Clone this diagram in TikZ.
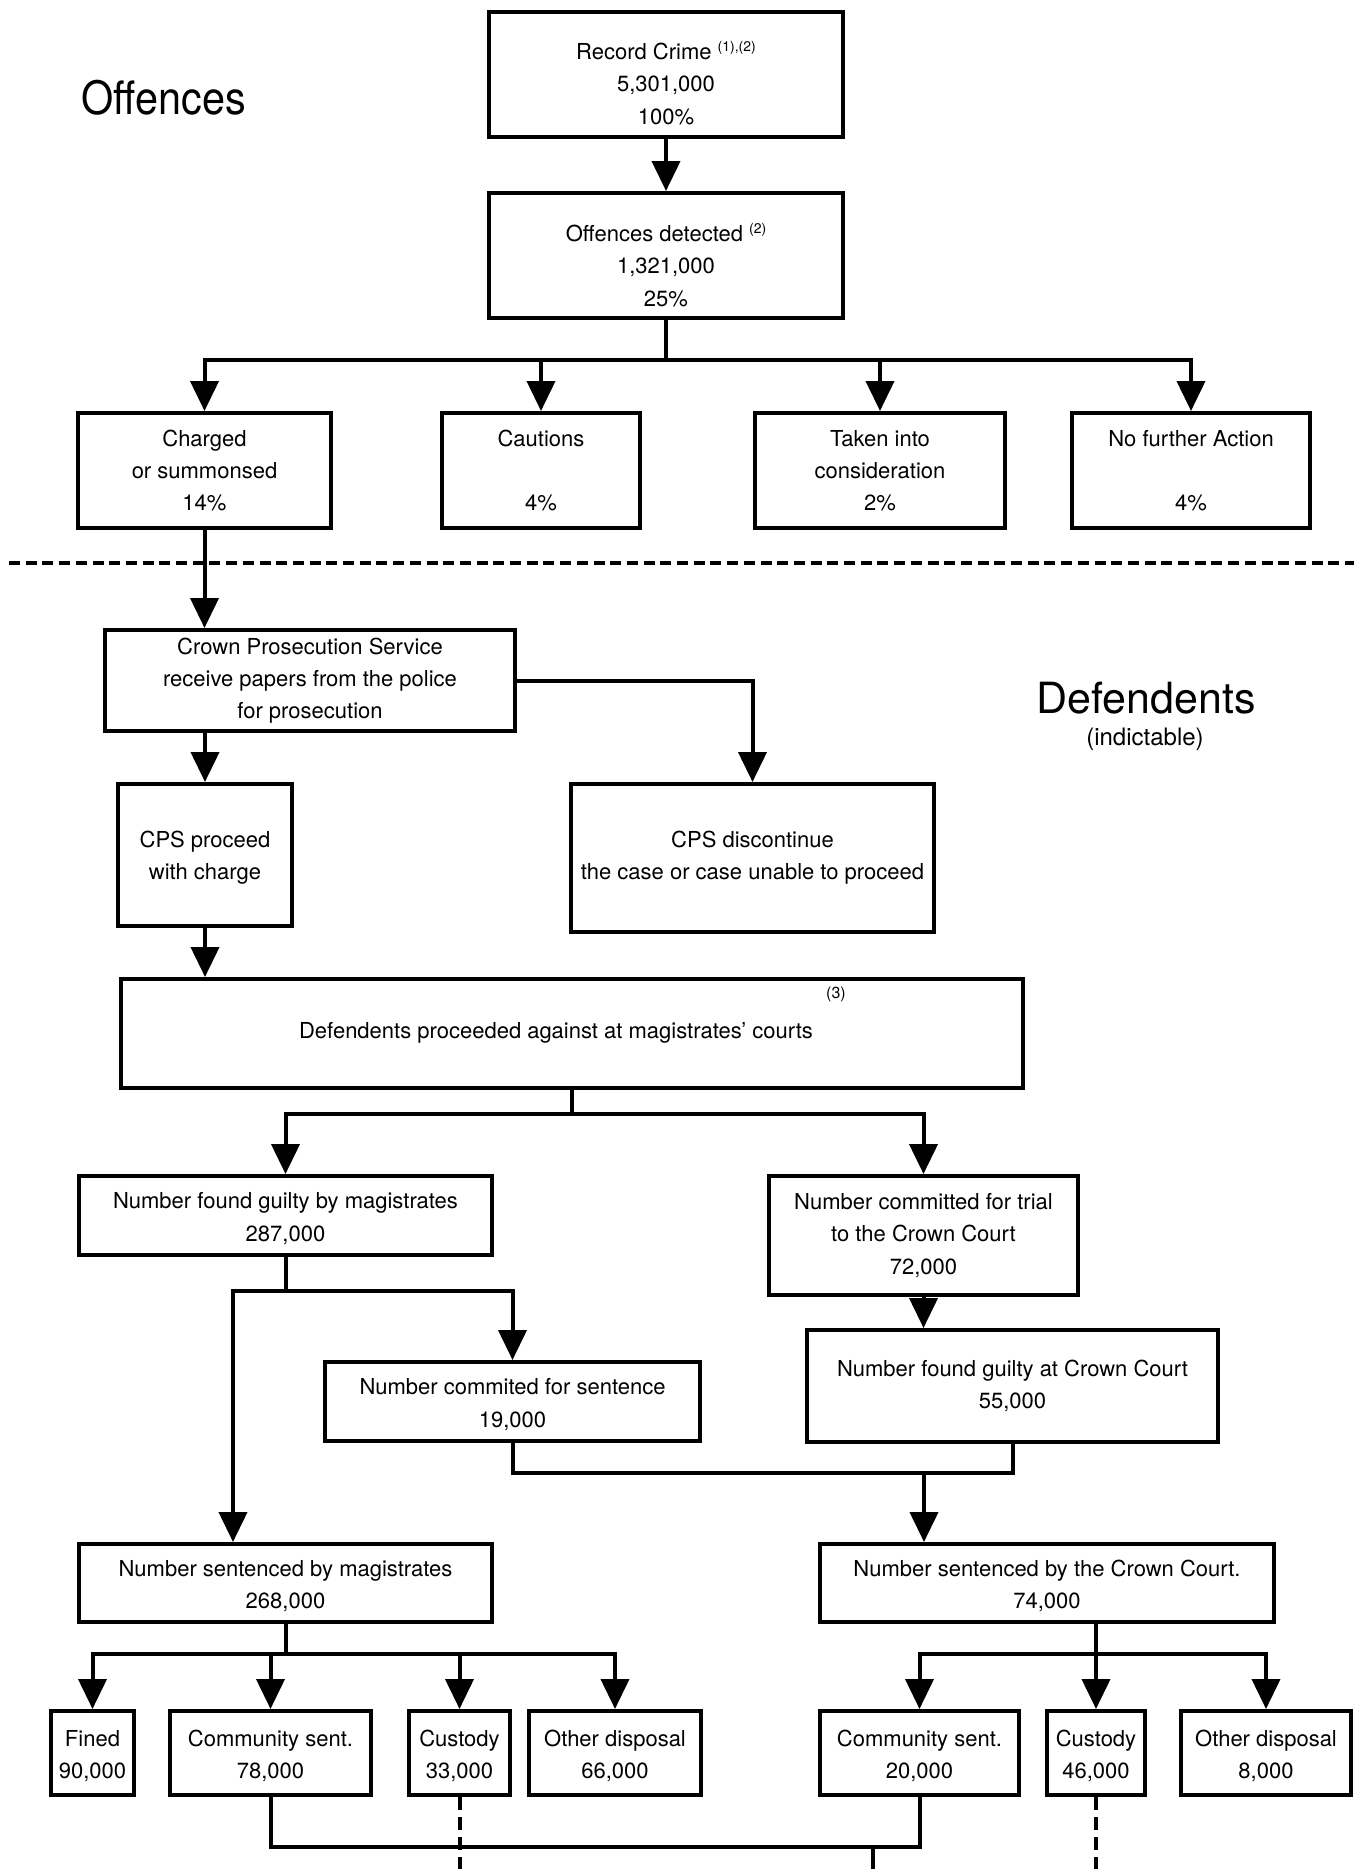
\documentclass[tikz,border=0pt]{standalone}
\usepackage{fontspec}
\setmainfont{TeX Gyre Heros}
\usepackage{graphicx}
\usetikzlibrary{arrows.meta}
\newcommand{\flowbox}[6]{%
  \pgfmathsetmacro{\fbcx}{(#2+#4)/2}%
  \pgfmathsetmacro{\fbcy}{(#3+#5)/2}%
  \pgfmathsetmacro{\fbw}{#4-#2}%
  \pgfmathsetmacro{\fbh}{#5-#3}%
  \node[box, minimum width=\fbw pt, minimum height=\fbh pt] (#1) at (\fbcx,\fbcy) {#6};%
}
\newcommand{\fnmark}[1]{\raisebox{8pt}{\fontsize{14}{14}\selectfont #1}}
\newcommand{\topstrut}{\rule{0pt}{22pt}}
\begin{document}
\begin{tikzpicture}[x=1pt,y=-1pt,
  box/.style={draw, line width=4pt, inner sep=0pt, align=center, font=\fontsize{22}{32.3}\selectfont},
  txt/.style={inner sep=0pt, align=center, font=\fontsize{22}{32.3}\selectfont},
  con/.style={line width=4pt},
  arr/.style={con, -{Triangle[length=30pt, width=28pt]}},
  dsh/.style={line width=4pt, dash pattern=on 13pt off 7pt},
  sepline/.style={line width=4pt, dash pattern=on 11pt off 5.7pt},
]
\fill[white] (0,0) rectangle (1354,1869);
\useasboundingbox (0,0) rectangle (1354,1869);

% headings
\node[inner sep=0pt, font=\fontsize{46}{46}\selectfont] (offl) at (164,98) {\scalebox{0.9}[1]{Offences}};
\node[inner sep=0pt, font=\fontsize{43}{43}\selectfont] (defl) at (1146,698) {Defendents};
\node[inner sep=0pt, font=\fontsize{24}{24}\selectfont] (indl) at (1145,739) {(indictable)};

% separator
\coordinate (dl) at (9,563);
\coordinate (dr) at (1360,563);
\draw[sepline] (dl) -- (dr);

% boxes
\flowbox{rec}{489}{12}{843}{137}{}
\node[txt] (rect) at (666,83) {Record Crime \fnmark{(1),(2)}\\5,301,000\\100\%};
\flowbox{det}{489}{193}{843}{318}{}
\node[txt] (dett) at (666,265) {Offences detected \fnmark{(2)}\\1,321,000\\25\%};

\flowbox{chg}{78}{413}{331}{528}{Charged\\or summonsed\\14\%}
\flowbox{cau}{442}{413}{640}{528}{Cautions\\~\\4\%}
\flowbox{tic}{755}{413}{1005}{528}{Taken into\\consideration\\2\%}
\flowbox{nfa}{1072}{413}{1310}{528}{No further Action\\~\\4\%}

\flowbox{cps}{105}{630}{515}{731}{Crown Prosecution Service\\receive papers from the police\\for prosecution}
\flowbox{proc}{118}{784}{292}{926}{\topstrut CPS proceed\\with charge}
\flowbox{disc}{571}{784}{934}{932}{CPS discontinue\\the case or case unable to proceed}

\flowbox{defp}{121}{979}{1023}{1088}{}
\node[txt] (defpt) at (556,1033) {Defendents proceeded against at magistrates' courts};
\node[inner sep=0pt, font=\fontsize{16}{16}\selectfont] (fn3) at (836,994) {(3)};

\flowbox{fgm}{79}{1176}{492}{1255}{\topstrut Number found guilty by magistrates\\287,000}
\flowbox{trial}{769}{1176}{1078}{1295}{Number committed for trial\\to the Crown Court\\72,000}
\flowbox{fgc}{807}{1330}{1218}{1442}{Number found guilty at Crown Court\\55,000}
\flowbox{sent}{325}{1362}{700}{1441}{\topstrut Number commited for sentence\\19,000}

\flowbox{sbm}{79}{1544}{492}{1622}{\topstrut Number sentenced by magistrates\\268,000}
\flowbox{sbc}{820}{1544}{1274}{1622}{\topstrut Number sentenced by the Crown Court.\\74,000}

\flowbox{fine}{51}{1711}{134}{1795}{\topstrut Fined\\90,000}
\flowbox{comm}{170}{1711}{371}{1795}{\topstrut Community sent.\\78,000}
\flowbox{cusm}{409}{1711}{510}{1795}{\topstrut Custody\\33,000}
\flowbox{othm}{529}{1711}{701}{1795}{\topstrut Other disposal\\66,000}
\flowbox{comc}{820}{1711}{1019}{1795}{\topstrut Community sent.\\20,000}
\flowbox{cusc}{1047}{1711}{1145}{1795}{\topstrut Custody\\46,000}
\flowbox{othc}{1181}{1711}{1351}{1795}{\topstrut Other disposal\\8,000}

% connectors
\draw[arr] (rec.south) -- (det.north);
\coordinate (b1) at (666,360);
\draw[arr] (det.south) -- (b1) -| (chg.north);
\draw[arr] (b1) -| (cau.north);
\draw[arr] (b1) -| (tic.north);
\draw[arr] (b1) -| (nfa.north);

\draw[arr] (chg.south) -- (chg.south |- cps.north);
\draw[arr] (proc.north |- cps.south) -- (proc.north);
\draw[arr] (cps.east) -| (disc.north);
\draw[arr] (proc.south) -- (proc.south |- defp.north);

\coordinate (b2) at (572,1114);
\draw[arr] (defp.south) -- (b2) -| (fgm.north);
\draw[arr] (b2) -| (trial.north);
\draw[arr] (trial.south) -- (trial.south |- fgc.north);

\coordinate (b3) at (285.5,1291);
\coordinate (b3l) at (233,1291);
\draw[arr] (fgm.south) -- (b3) -| (sent.north);
\draw[arr] (b3) -- (b3l) -- (b3l |- sbm.north);

\coordinate (b4) at (924,1472.5);
\draw[con] (sent.south) -- (sent.south |- b4) -- (fgc.south |- b4) -- (fgc.south);
\draw[arr] (b4) -- (b4 |- sbc.north);

\coordinate (b5) at (285.5,1654);
\draw[arr] (sbm.south) -- (b5) -| (fine.north);
\draw[arr] (b5) -| (comm.north);
\draw[arr] (b5) -| (cusm.north);
\draw[arr] (b5) -| (othm.north);

\coordinate (b6) at (1096,1654);
\draw[arr] (sbc.south -| b6) -- (b6) -| (comc.north);
\draw[arr] (b6) -- (cusc.north);
\draw[arr] (b6) -| (othc.north);

\coordinate (b7) at (873,1847);
\coordinate (e1) at (873,1875);
\draw[con] (comm.south) -- (comm.south |- b7) -- (comc.south |- b7) -- (comc.south);
\draw[con] (b7) -- (e1);
\draw[dsh] (cusm.south) -- (cusm.south |- e1);
\draw[dsh] (cusc.south) -- (cusc.south |- e1);
\end{tikzpicture}
\end{document}
